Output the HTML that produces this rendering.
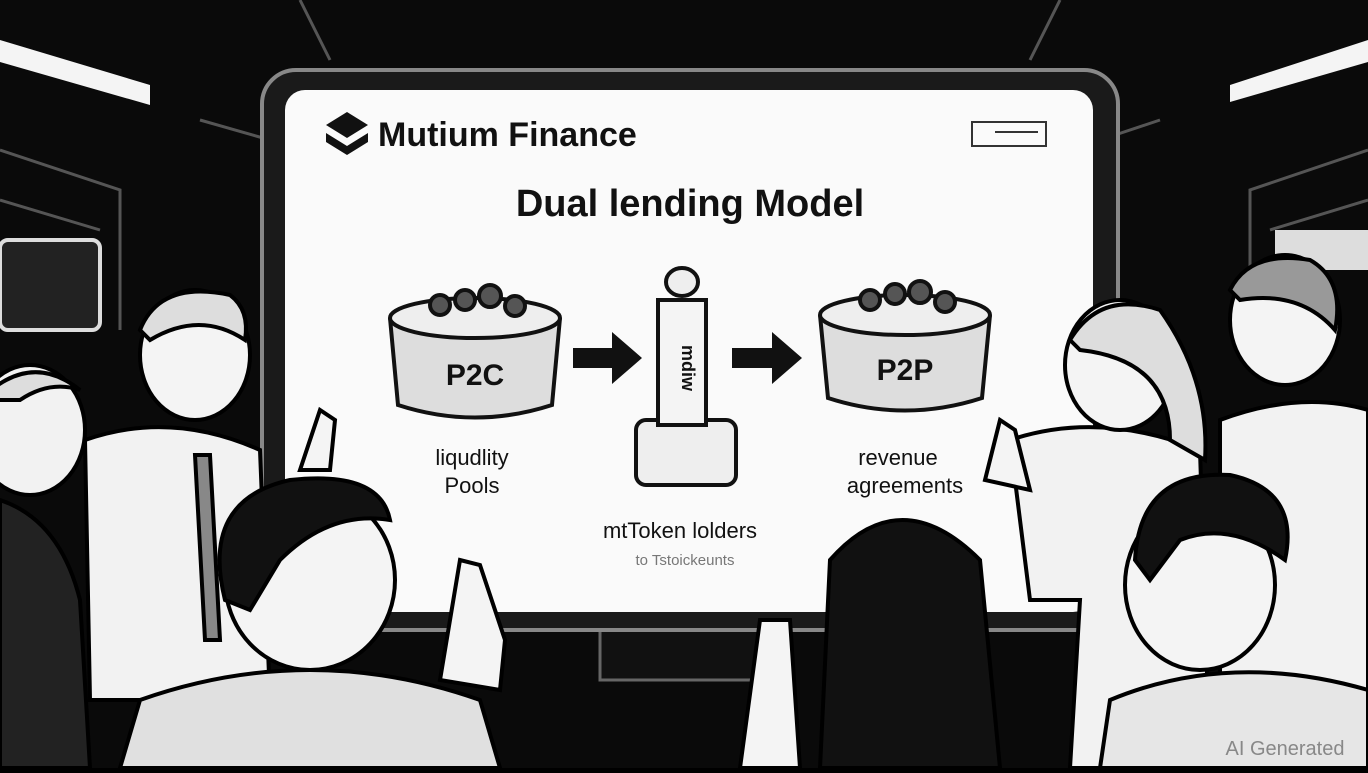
<!DOCTYPE html>
<html><head><meta charset="utf-8"><style>
html,body{margin:0;padding:0;background:#000;}
body{width:1368px;height:768px;overflow:hidden;position:relative;font-family:"Liberation Sans",sans-serif;}
</style></head><body>
<svg width="1368" height="768" viewBox="0 0 1368 768" xmlns="http://www.w3.org/2000/svg">
<rect width="1368" height="768" fill="#0a0a0a"/>
<!-- ceiling lights -->
<polygon points="0,40 150,85 150,105 0,62" fill="#f4f4f4"/>
<polygon points="1230,85 1368,40 1368,62 1230,102" fill="#f4f4f4"/>
<!-- background lines -->
<g stroke="#555" stroke-width="3" fill="none">
<path d="M0,150 L120,190 L120,330"/><path d="M0,200 L100,230"/><path d="M1368,150 L1250,190 L1250,330"/><path d="M1368,200 L1270,230"/>
<path d="M300,0 L330,60"/><path d="M1060,0 L1030,60"/><path d="M200,120 L270,140"/><path d="M1160,120 L1100,140"/>
</g>
<rect x="0" y="240" width="100" height="90" rx="8" fill="#222" stroke="#ddd" stroke-width="4"/>
<rect x="1275" y="230" width="93" height="40" fill="#ddd"/>
<!-- monitor stand -->
<rect x="600" y="620" width="170" height="60" fill="#111" stroke="#666" stroke-width="3"/>
<!-- screen bezel -->
<rect x="262" y="70" width="856" height="560" rx="34" fill="#1a1a1a" stroke="#888" stroke-width="4"/>
<rect x="285" y="90" width="808" height="522" rx="20" fill="#fafafa"/>
<!-- logo -->
<polygon points="347,112 368,125 347,138 326,125" fill="#111"/>
<polygon points="326,133 347,146 368,133 368,142 347,155 326,142" fill="#111"/>
<text x="378" y="146" font-size="34" font-weight="bold" fill="#111">Mutium  Finance</text>
<rect x="972" y="122" width="74" height="24" fill="none" stroke="#333" stroke-width="2"/>
<line x1="995" y1="132" x2="1038" y2="132" stroke="#333" stroke-width="2"/>
<text x="690" y="216" font-size="38" font-weight="bold" fill="#111" text-anchor="middle">Dual lending Model</text>
<!-- P2C cylinder -->
<g stroke="#111" stroke-width="4">
<path d="M390,318 L398,405 Q475,430 552,405 L560,318" fill="#ddd"/>
<ellipse cx="475" cy="318" rx="85" ry="20" fill="#eee"/>
<circle cx="440" cy="305" r="10" fill="#555"/><circle cx="465" cy="300" r="10" fill="#555"/><circle cx="490" cy="296" r="11" fill="#555"/><circle cx="515" cy="306" r="10" fill="#555"/>
</g>
<text x="475" y="385" font-size="30" font-weight="bold" fill="#111" text-anchor="middle">P2C</text>
<text x="472" y="465" font-size="22" fill="#111" text-anchor="middle">liqudlity</text>
<text x="472" y="493" font-size="22" fill="#111" text-anchor="middle">Pools</text>
<!-- arrows -->
<polygon points="573,348 612,348 612,332 642,358 612,384 612,368 573,368" fill="#111"/>
<polygon points="732,348 772,348 772,332 802,358 772,384 772,368 732,368" fill="#111"/>
<!-- tube -->
<g stroke="#111" stroke-width="4">
<rect x="636" y="420" width="100" height="65" rx="10" fill="#eee"/>
<rect x="658" y="300" width="48" height="125" fill="#f4f4f4"/>
<ellipse cx="682" cy="282" rx="16" ry="14" fill="#eee"/>
</g>
<text x="690" y="360" font-size="18" font-weight="bold" fill="#111" text-anchor="middle" transform="rotate(90 682 360)">mdiw</text>
<!-- P2P cylinder -->
<g stroke="#111" stroke-width="4">
<path d="M820,315 L828,398 Q905,423 982,398 L990,315" fill="#ddd"/>
<ellipse cx="905" cy="315" rx="85" ry="20" fill="#eee"/>
<circle cx="870" cy="300" r="10" fill="#555"/><circle cx="895" cy="294" r="10" fill="#555"/><circle cx="920" cy="292" r="11" fill="#555"/><circle cx="945" cy="302" r="10" fill="#555"/>
</g>
<text x="905" y="380" font-size="30" font-weight="bold" fill="#111" text-anchor="middle">P2P</text>
<text x="898" y="465" font-size="22" fill="#111" text-anchor="middle">revenue</text>
<text x="905" y="493" font-size="22" fill="#111" text-anchor="middle">agreements</text>
<text x="680" y="538" font-size="22" fill="#111" text-anchor="middle">mtToken lolders</text>
<text x="685" y="565" font-size="15" fill="#777" text-anchor="middle">to Tstoickeunts</text>
<!-- people -->
<g stroke="#000" stroke-width="4">
<!-- far left woman -->
<path d="M0,500 Q60,520 80,600 L90,768 L0,768Z" fill="#222"/>
<ellipse cx="30" cy="430" rx="55" ry="65" fill="#f2f2f2"/>
<path d="M-20,400 Q30,350 80,390 Q50,380 20,400Z" fill="#ddd"/>
<!-- left man -->
<path d="M85,440 Q170,410 260,450 L270,700 L90,700Z" fill="#f2f2f2"/>
<polygon points="195,455 210,455 220,640 205,640" fill="#888"/>
<ellipse cx="195" cy="355" rx="55" ry="65" fill="#f4f4f4"/>
<path d="M140,330 Q160,280 230,295 Q250,310 245,340 Q200,310 150,340Z" fill="#ddd"/>
<path d="M300,470 L320,410 L335,420 L330,470Z" fill="#f4f4f4"/>
<!-- front boy -->
<path d="M140,700 Q310,640 480,700 L500,768 L120,768Z" fill="#e0e0e0"/>
<ellipse cx="310" cy="580" rx="85" ry="90" fill="#f4f4f4"/>
<path d="M225,600 Q200,500 290,480 Q380,470 390,520 Q330,510 280,560 L250,610Z" fill="#111"/>
<path d="M440,680 L460,560 L480,565 L505,640 L500,690Z" fill="#f4f4f4"/>
<!-- front girl -->
<path d="M830,560 Q900,480 980,560 L1000,768 L820,768Z" fill="#111"/>
<path d="M740,768 L760,620 L790,620 L800,768Z" fill="#f4f4f4"/>
<!-- right woman -->
<path d="M1010,440 Q1100,410 1200,450 L1210,768 L1070,768 L1080,600 L1030,600Z" fill="#f2f2f2"/>
<ellipse cx="1120" cy="365" rx="55" ry="65" fill="#f4f4f4"/>
<path d="M1070,340 Q1100,290 1160,310 Q1210,380 1205,460 L1170,440 Q1170,360 1080,350Z" fill="#ddd"/>
<path d="M985,480 L1000,420 L1015,430 L1030,490Z" fill="#f4f4f4"/>
<!-- far right man -->
<path d="M1220,420 Q1300,390 1368,410 L1368,768 L1220,768Z" fill="#f2f2f2"/>
<ellipse cx="1285" cy="320" rx="55" ry="65" fill="#f4f4f4"/>
<path d="M1230,290 Q1250,250 1310,260 Q1345,280 1335,330 Q1300,290 1240,300Z" fill="#999"/>
<!-- bottom right boy -->
<path d="M1110,700 Q1230,650 1368,690 L1368,768 L1100,768Z" fill="#e6e6e6"/>
<ellipse cx="1200" cy="585" rx="75" ry="85" fill="#f4f4f4"/>
<path d="M1135,560 Q1140,470 1230,475 Q1300,490 1285,560 Q1230,520 1180,540 L1150,580Z" fill="#111"/>
</g>
<text x="1285" y="755" font-size="20" fill="#888" text-anchor="middle">AI Generated</text>
</svg>
</body></html>
